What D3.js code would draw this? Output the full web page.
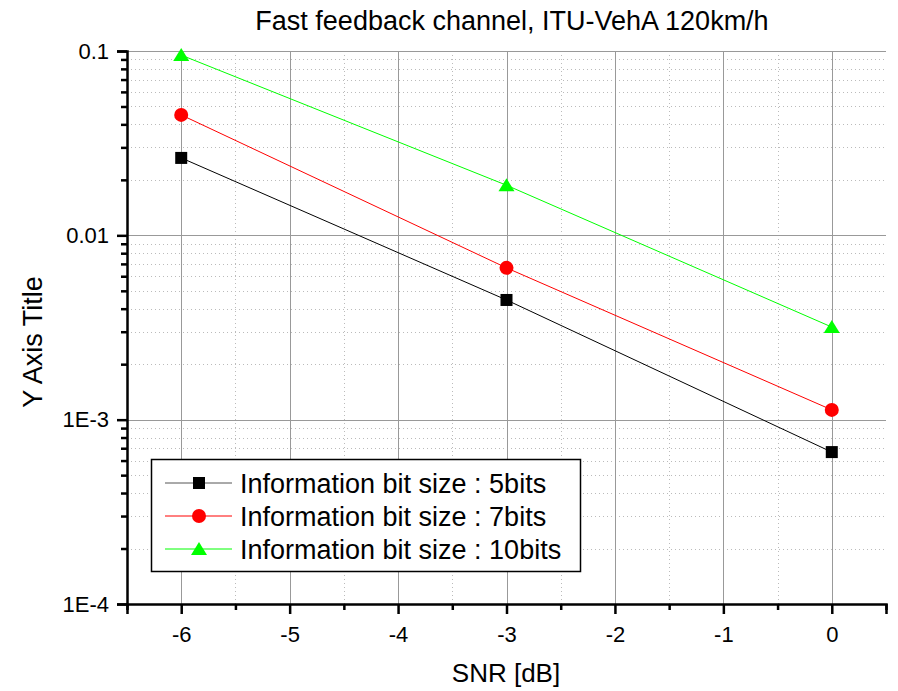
<!DOCTYPE html>
<meta charset="utf-8">
<style>
body { margin: 0; background: #fff; }
text { font-family: Arial, "Liberation Sans", sans-serif; fill: #000; }
.major { stroke: #999; stroke-width: 1px; }
.minor { stroke: #bbb; stroke-width: 1px; stroke-dasharray: 1,3; }
</style>
<body>
<script src="https://cdn.jsdelivr.net/npm/d3@7"></script>
<script>

var width = 898,
    height = 691;

// data
var snr = [-6, -3, 0];
var ber5 = [0.0263, 0.00446, 0.000667];
var ber7 = [0.045, 0.00666, 0.00113];
var ber10 = [0.095, 0.0187, 0.00318];
var seriesNames = ["Information bit size : 5bits", "Information bit size : 7bits", "Information bit size : 10bits"];
var xTicks = [-6, -5, -4, -3, -2, -1, 0];
var yTicks = [1e-4, 1e-3, 0.01, 0.1];
var yTickLabels = ["1E-4", "1E-3", "0.01", "0.1"];

var series = [
  { name: seriesNames[0], values: ber5, color: "#000", shape: "square" },
  { name: seriesNames[1], values: ber7, color: "#ff0000", shape: "circle" },
  { name: seriesNames[2], values: ber10, color: "#00ff00", shape: "triangle" }
];

var x = d3.scaleLinear().domain([-6.5, 0.5]).range([127, 886]);
var y = d3.scaleLog().domain([1e-4, 0.1]).range([604, 51]);

var svg = d3.select("body").append("svg")
    .attr("width", width)
    .attr("height", height);

// minor grid
var yMinor = [];
yTicks.slice(0, 3).forEach(function(d) {
  for (var k = 2; k <= 9; k++) yMinor.push(d * k);
});
var xMinor = d3.range(-6.5, 0.51, 1);

svg.append("g").selectAll("line").data(yMinor).enter().append("line")
    .attr("class", "minor")
    .attr("x1", x.range()[0]).attr("x2", x.range()[1])
    .attr("y1", d => Math.round(y(d)) + 0.5).attr("y2", d => Math.round(y(d)) + 0.5);

svg.append("g").selectAll("line").data(xMinor.slice(1, -1)).enter().append("line")
    .attr("class", "minor")
    .attr("x1", d => Math.round(x(d)) + 0.5).attr("x2", d => Math.round(x(d)) + 0.5)
    .attr("y1", y.range()[1]).attr("y2", y.range()[0]);

// major grid
svg.append("g").selectAll("line").data(yTicks.slice(1)).enter().append("line")
    .attr("class", "major")
    .attr("x1", x.range()[0]).attr("x2", x.range()[1])
    .attr("y1", d => Math.round(y(d)) + 0.5).attr("y2", d => Math.round(y(d)) + 0.5);

svg.append("g").selectAll("line").data(xTicks).enter().append("line")
    .attr("class", "major")
    .attr("x1", d => Math.round(x(d)) + 0.5).attr("x2", d => Math.round(x(d)) + 0.5)
    .attr("y1", y.range()[1]).attr("y2", y.range()[0]);

// axes
var xAxis = svg.append("g")
    .attr("transform", "translate(0," + y.range()[0] + ")")
    .call(d3.axisBottom(x).tickValues(xTicks).tickSize(10).tickPadding(12).tickFormat(d => String(d)));

var xAxisMinor = svg.append("g")
    .attr("transform", "translate(0," + y.range()[0] + ")")
    .call(d3.axisBottom(x).tickValues(xMinor).tickSize(6).tickFormat(""));

var yAxis = svg.append("g")
    .attr("transform", "translate(" + x.range()[0] + ",0)")
    .call(d3.axisLeft(y).tickValues(yTicks).tickSize(10).tickPadding(8)
      .tickFormat((d, i) => yTickLabels[i]));

var yAxisMinor = svg.append("g")
    .attr("transform", "translate(" + x.range()[0] + ",0)")
    .call(d3.axisLeft(y).tickValues(yMinor).tickSize(6).tickFormat(""));

[xAxis, xAxisMinor, yAxis, yAxisMinor].forEach(function(g) {
  g.attr("font-size", null).attr("font-family", null);
  g.select(".domain").attr("stroke", "#000").attr("stroke-width", 2.5);
  g.selectAll(".tick line").attr("stroke", "#000").attr("stroke-width", 2.5);
  g.selectAll(".tick text").style("font-size", "22px").attr("fill", "#000");
});
xAxisMinor.select(".domain").remove();
yAxisMinor.select(".domain").remove();

// series lines
var line = d3.line()
    .x((d, i) => x(snr[i]))
    .y(d => y(d));

function marker(g, shape, color) {
  if (shape === "square") {
    g.append("rect").attr("x", -6).attr("y", -6).attr("width", 12).attr("height", 12)
      .attr("fill", color);
  } else if (shape === "circle") {
    g.append("circle").attr("r", 7).attr("fill", color);
  } else {
    g.append("path").attr("d", "M0,-7L8,6L-8,6Z").attr("fill", color);
  }
}

series.forEach(function(s) {
  svg.append("path")
      .datum(s.values)
      .attr("fill", "none")
      .attr("stroke", s.color)
      .attr("stroke-width", 1)
      .attr("d", line);
  s.values.forEach(function(v, i) {
    var g = svg.append("g").attr("transform", "translate(" + x(snr[i]) + "," + y(v) + ")");
    marker(g, s.shape, s.color);
  });
});

// legend
var legend = svg.append("g");
legend.append("rect")
    .attr("x", 151.5).attr("y", 459.5).attr("width", 429).attr("height", 112)
    .attr("fill", "#fff").attr("stroke", "#000").attr("stroke-width", 1.5);

series.forEach(function(s, i) {
  var cy = 483 + i * 33;
  legend.append("line")
      .attr("x1", 165).attr("x2", 232).attr("y1", cy).attr("y2", cy)
      .attr("stroke", s.shape === "square" ? "#555" : s.color).attr("stroke-width", 1);
  var g = legend.append("g").attr("transform", "translate(199," + cy + ")");
  marker(g, s.shape, s.color);
  legend.append("text")
      .attr("x", 240).attr("y", cy + 10)
      .style("font-size", "27px")
      .text(s.name);
});

// titles
svg.append("text")
    .attr("x", 512).attr("y", 30)
    .attr("text-anchor", "middle")
    .style("font-size", "27px")
    .text("Fast feedback channel, ITU-VehA 120km/h");

svg.append("text")
    .attr("x", 506).attr("y", 682)
    .attr("text-anchor", "middle")
    .style("font-size", "26px")
    .text("SNR [dB]");

svg.append("text")
    .attr("transform", "translate(42,342) rotate(-90)")
    .attr("text-anchor", "middle")
    .style("font-size", "27px")
    .text("Y Axis Title");

</script>
